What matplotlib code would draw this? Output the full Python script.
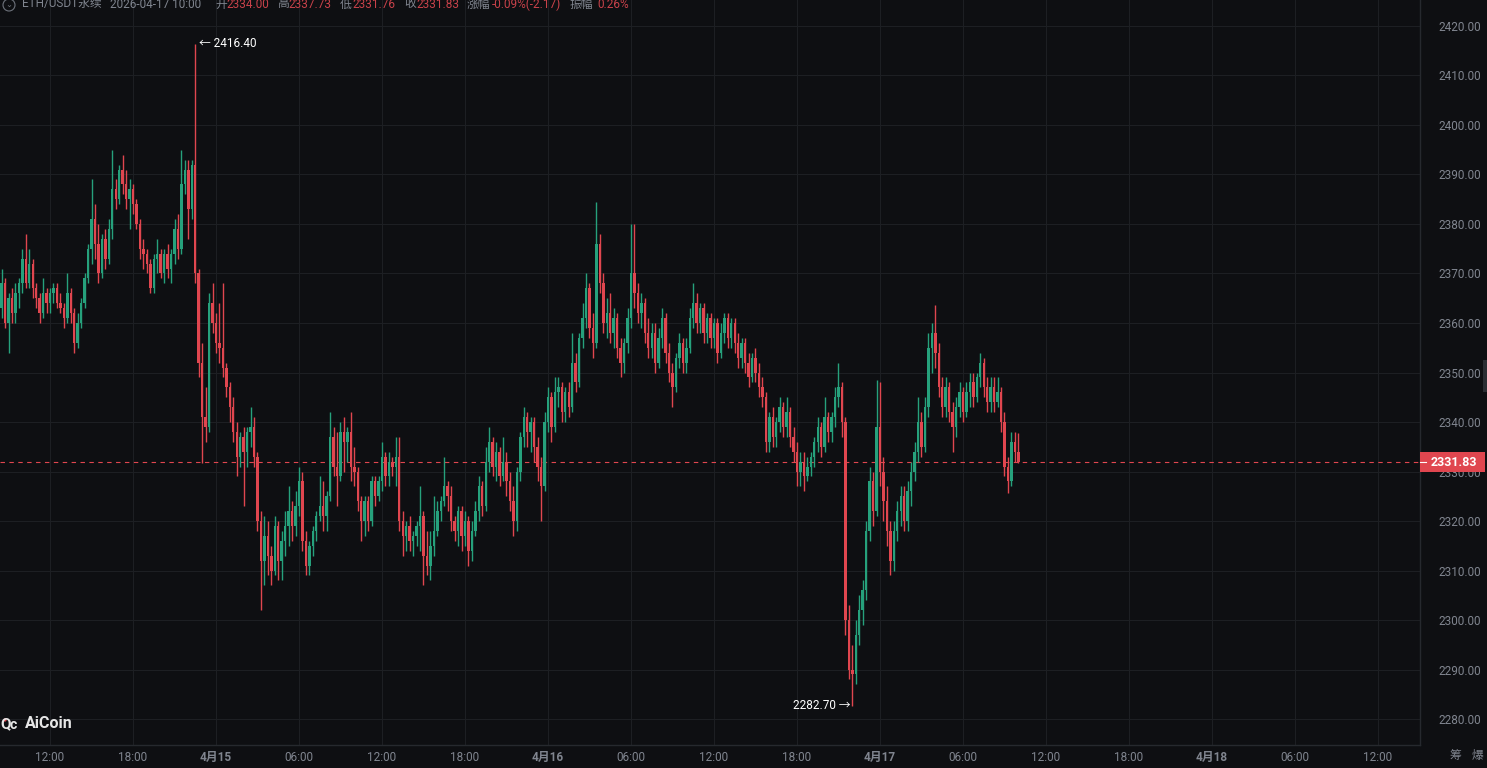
import matplotlib
matplotlib.use("Agg")
import matplotlib.pyplot as plt
import matplotlib.dates as mdates
import matplotlib.transforms as mtransforms
from matplotlib.patches import Rectangle, Circle
import pandas as pd

plt.rcParams['font.family'] = ['Roboto', 'Noto Sans CJK SC', 'DejaVu Sans']

# 15分钟K线, 2026-04-14 08:30 起
start = "2026-04-14 08:30"
first_open = 2363.0

closes = [
    2368, 2360, 2365, 2362, 2366, 2368, 2373, 2368, 2372, 2367,
    2365, 2362, 2366, 2364, 2366, 2367, 2364, 2363, 2361, 2366,
    2362, 2356, 2360, 2364, 2369, 2375, 2381, 2376, 2370, 2377,
    2373, 2379, 2387, 2385, 2391, 2388, 2385, 2387, 2384, 2380,
    2375, 2374, 2372, 2367, 2373, 2374, 2370, 2374, 2371, 2374,
    2379, 2375, 2388, 2391, 2383, 2392, 2370, 2352, 2341, 2339,
    2364, 2360, 2356, 2355, 2351, 2347, 2343, 2338, 2333, 2337,
    2334, 2338, 2339, 2333, 2320, 2312, 2317, 2313, 2310, 2319,
    2312, 2316, 2319, 2322, 2319, 2323, 2328, 2316, 2311, 2315,
    2318, 2321, 2323, 2321, 2325, 2337, 2331, 2329, 2338, 2336,
    2338, 2331, 2330, 2324, 2320, 2324, 2320, 2328, 2325, 2328,
    2333, 2329, 2332, 2331, 2333, 2320, 2317, 2319, 2316, 2317,
    2319, 2321, 2313, 2311, 2315, 2318, 2322, 2324, 2327, 2325,
    2320, 2318, 2322, 2317, 2320, 2314, 2318, 2322, 2327, 2323,
    2332, 2336, 2331, 2334, 2329, 2332, 2328, 2324, 2320, 2330,
    2337, 2341, 2338, 2340, 2335, 2331, 2327, 2340, 2345, 2339,
    2346, 2347, 2342, 2346, 2343, 2352, 2348, 2357, 2361, 2367,
    2359, 2356, 2376, 2368, 2360, 2362, 2358, 2361, 2355, 2352,
    2356, 2361, 2370, 2366, 2362, 2364, 2358, 2355, 2358, 2352,
    2357, 2361, 2354, 2350, 2347, 2353, 2356, 2352, 2355, 2361,
    2364, 2360, 2363, 2358, 2361, 2357, 2360, 2354, 2358, 2361,
    2357, 2360, 2356, 2353, 2356, 2352, 2349, 2353, 2350, 2347,
    2345, 2336, 2341, 2337, 2340, 2343, 2339, 2342, 2337, 2334,
    2330, 2332, 2329, 2331, 2333, 2336, 2339, 2335, 2341, 2338,
    2341, 2345, 2347, 2340, 2300, 2290, 2289, 2297, 2302, 2306,
    2318, 2328, 2322, 2339, 2330, 2324, 2318, 2312, 2318, 2322,
    2325, 2320, 2326, 2330, 2334, 2340, 2335, 2343, 2355, 2358,
    2354, 2347, 2343, 2347, 2342, 2339, 2343, 2346, 2342, 2346,
    2348, 2345, 2349, 2352, 2347, 2344, 2347, 2344, 2346, 2340,
    2331, 2328, 2336, 2334, 2331.83,
]

highs = [
    2371, 2369, 2366, 2367, 2368, 2369, 2375, 2378, 2375, 2373,
    2368, 2366, 2369, 2367, 2367, 2368, 2368, 2366, 2364, 2370,
    2367, 2363, 2362, 2365, 2370, 2376, 2389, 2384, 2380, 2378,
    2379, 2381, 2395, 2389, 2392, 2394, 2391, 2389, 2388, 2385,
    2381, 2377, 2375, 2373, 2374, 2377, 2375, 2375, 2376, 2375,
    2381, 2382, 2395, 2393, 2393, 2393, 2416.4, 2371, 2356, 2347,
    2366, 2368, 2362, 2364, 2368, 2352, 2348, 2345, 2340, 2338,
    2339, 2339, 2343, 2341, 2334, 2322, 2321, 2320, 2315, 2321,
    2320, 2318, 2322, 2327, 2324, 2326, 2331, 2330, 2318, 2316,
    2319, 2322, 2329, 2328, 2326, 2342, 2339, 2338, 2340, 2341,
    2339, 2342, 2335, 2331, 2325, 2325, 2325, 2329, 2329, 2329,
    2336, 2334, 2334, 2333, 2337, 2337, 2322, 2320, 2321, 2318,
    2320, 2327, 2322, 2318, 2318, 2325, 2324, 2325, 2333, 2328,
    2327, 2321, 2323, 2323, 2322, 2321, 2320, 2324, 2329, 2328,
    2335, 2339, 2337, 2336, 2335, 2337, 2334, 2330, 2327, 2331,
    2338, 2343, 2342, 2341, 2341, 2337, 2333, 2342, 2347, 2346,
    2349, 2349, 2348, 2347, 2348, 2358, 2354, 2358, 2364, 2370,
    2368, 2362, 2384.4, 2378, 2370, 2365, 2366, 2363, 2362, 2357,
    2357, 2363, 2380, 2380, 2368, 2366, 2365, 2361, 2360, 2360,
    2359, 2363, 2362, 2356, 2352, 2354, 2358, 2357, 2357, 2363,
    2368, 2366, 2364, 2364, 2362, 2362, 2361, 2361, 2360, 2362,
    2362, 2361, 2361, 2358, 2357, 2357, 2354, 2354, 2355, 2352,
    2349, 2346, 2342, 2343, 2341, 2345, 2344, 2345, 2343, 2339,
    2336, 2334, 2334, 2333, 2334, 2337, 2341, 2340, 2345, 2342,
    2342, 2347, 2352, 2348, 2341, 2303, 2295, 2300, 2305, 2308,
    2320, 2331, 2330, 2348.5, 2348, 2333, 2327, 2320, 2320, 2324,
    2327, 2327, 2328, 2332, 2336, 2345, 2342, 2345, 2358, 2360,
    2363.6, 2356, 2349, 2349, 2348, 2344, 2345, 2348, 2347, 2348,
    2350, 2350, 2350, 2354, 2353, 2349, 2349, 2349, 2349, 2347,
    2342, 2333, 2338, 2338, 2337.73,
]

lows = [
    2361, 2359, 2354, 2360, 2360, 2363, 2366, 2367, 2367, 2365,
    2363, 2360, 2361, 2362, 2362, 2364, 2363, 2362, 2359, 2360,
    2360, 2354, 2355, 2359, 2363, 2368, 2372, 2373, 2368, 2369,
    2371, 2372, 2377, 2383, 2384, 2386, 2383, 2379, 2382, 2379,
    2373, 2371, 2370, 2366, 2366, 2370, 2369, 2368, 2369, 2368,
    2372, 2373, 2374, 2386, 2377, 2381, 2368, 2349, 2331.7, 2336,
    2338, 2358, 2354, 2352, 2349, 2345, 2340, 2336, 2329, 2331,
    2323, 2331, 2335, 2331, 2318, 2302, 2307, 2309, 2307, 2309,
    2308, 2308, 2313, 2315, 2316, 2317, 2321, 2314, 2309, 2309,
    2313, 2316, 2320, 2318, 2318, 2324, 2329, 2323, 2328, 2330,
    2332, 2328, 2327, 2322, 2316, 2317, 2318, 2319, 2323, 2324,
    2326, 2327, 2327, 2329, 2327, 2318, 2313, 2314, 2314, 2313,
    2315, 2314, 2307, 2309, 2308, 2313, 2317, 2320, 2323, 2322,
    2318, 2316, 2315, 2314, 2315, 2311, 2312, 2317, 2320, 2321,
    2322, 2330, 2329, 2328, 2327, 2328, 2325, 2322, 2317, 2318,
    2328, 2335, 2335, 2334, 2332, 2328, 2320, 2326, 2338, 2336,
    2338, 2343, 2340, 2340, 2341, 2342, 2346, 2347, 2355, 2359,
    2357, 2353, 2355, 2366, 2358, 2357, 2356, 2355, 2353, 2349,
    2350, 2354, 2359, 2363, 2360, 2359, 2356, 2353, 2353, 2350,
    2351, 2355, 2352, 2348, 2343, 2346, 2351, 2350, 2350, 2354,
    2359, 2358, 2358, 2356, 2356, 2355, 2355, 2352, 2353, 2356,
    2355, 2355, 2354, 2351, 2351, 2350, 2347, 2348, 2348, 2345,
    2343, 2334, 2334, 2335, 2335, 2338, 2337, 2337, 2335, 2332,
    2327, 2327, 2326, 2328, 2329, 2331, 2334, 2333, 2334, 2336,
    2336, 2339, 2343, 2337, 2297, 2288, 2282.7, 2287, 2295, 2299,
    2304, 2316, 2319, 2321, 2327, 2320, 2315, 2309, 2310, 2316,
    2319, 2318, 2318, 2323, 2328, 2332, 2333, 2334, 2341, 2350,
    2351, 2345, 2341, 2341, 2340, 2334, 2337, 2341, 2340, 2341,
    2343, 2343, 2344, 2347, 2345, 2342, 2342, 2342, 2343, 2338,
    2329, 2325.7, 2327, 2332, 2331.76,
]

price_ticks = list(range(2280, 2421, 10))
time_ticks = pd.date_range("2026-04-14 12:00", "2026-04-18 12:00", freq="6h")

header = [
    (22, "ETH/USDT永续", "gray"), (110, "2026-04-17 10:00", "gray"),
    (215, "开", "gray"), (226, "2334.00", "red"),
    (277, "高", "gray"), (288, "2337.73", "red"),
    (340, "低", "gray"), (352, "2331.76", "red"),
    (404, "收", "gray"), (416, "2331.83", "red"),
    (467, "涨幅", "gray"), (492, "-0.09%(-2.17)", "red"),
    (570, "振幅", "gray"), (597, "0.26%", "red"),
]

assert len(closes) == len(highs) == len(lows)

BG = "#0e0f12"
GRID = "#1d1f23"
UP = "#26a17c"
DOWN = "#e0464f"
TXT = "#80858f"
HEAD_RED = "#c9424a"

times = mdates.date2num(pd.date_range(start, periods=len(closes), freq="15min"))
opens = [first_open] + closes[:-1]
last_price = closes[-1]

W, H = 1487, 768
fig = plt.figure(figsize=(W / 100, H / 100), dpi=100, facecolor=BG)
ax = fig.add_axes([0, 23 / H, 1420 / W, 745 / H], facecolor=BG)

day0 = mdates.date2num(pd.Timestamp("2026-04-15 00:00"))
ax.set_xlim(day0 - 15.615 / 24, day0 + 87.04 / 24)
ax.set_ylim(2274.75, 2425.25)

colors = [UP if c >= o else DOWN for o, c in zip(opens, closes)]
ax.vlines(times, lows, highs, colors=colors, lw=1.0, zorder=3)
body_bottom = [min(o, c) for o, c in zip(opens, closes)]
body_h = [max(abs(c - o), 0.25) for o, c in zip(opens, closes)]
ax.bar(times, body_h, bottom=body_bottom, width=0.7 * 0.25 / 24,
       color=colors, linewidth=0, zorder=4)

# grid / axes
ax.set_yticks(price_ticks)
ax.set_yticklabels([f"{p:.2f}" for p in price_ticks])
ax.yaxis.tick_right()
ax.set_xticks(mdates.date2num(time_ticks))
labels = []
for t in time_ticks:
    labels.append(f"{t.month}月{t.day}" if t.hour == 0 else t.strftime("%H:%M"))
ax.set_xticklabels(labels)
for lab, t in zip(ax.get_xticklabels(), time_ticks):
    if t.hour == 0:
        lab.set_fontweight("bold")
        lab.set_color("#a3a7ae")
ax.tick_params(axis="y", length=0, pad=13, labelsize=8.5, labelcolor=TXT)
ax.tick_params(axis="x", length=0, pad=4, labelsize=8.5, labelcolor=TXT)
ax.grid(True, color=GRID, lw=0.8)
ax.set_axisbelow(True)
for s in ["left", "top"]:
    ax.spines[s].set_visible(False)
for s in ["right", "bottom"]:
    ax.spines[s].set_color("#26292e")
    ax.spines[s].set_linewidth(1.0)

# current price line and tag
ax.axhline(last_price, color=DOWN, lw=0.8, ls=(0, (4, 4)), zorder=2)
blend = mtransforms.blended_transform_factory(ax.transAxes, ax.transData)
ax.add_patch(Rectangle((1.0, last_price - 2.02), 65 / 1420, 4.04, transform=blend,
                       facecolor=DOWN, edgecolor="none", clip_on=False, zorder=10))
ax.plot([1.0, 1.0 + 6 / 1420], [last_price, last_price], transform=blend,
        color="white", lw=0.8, clip_on=False, zorder=11)
ax.text(1.0 + 34 / 1420, last_price, f"{last_price:.2f}", transform=blend,
        color="white", fontsize=9, fontweight="bold", ha="center", va="center",
        zorder=11, clip_on=False)

# high / low marks
hi = highs.index(max(highs))
lo = lows.index(min(lows))
ax.annotate(f"← {highs[hi]:.2f}", xy=(times[hi], highs[hi]), xytext=(3, 0),
            textcoords="offset points", color="white", fontsize=8.5,
            ha="left", va="center", zorder=12)
ax.annotate(f"{lows[lo]:.2f} →", xy=(times[lo], lows[lo]), xytext=(-1, 0),
            textcoords="offset points", color="white", fontsize=8.5,
            ha="right", va="center", zorder=12)

# header
fig.patches.append(Circle((9, H - 5), 6, transform=None, facecolor="none",
                          edgecolor="#6d727b", lw=0.8))
fig.text(9 / W, 1 - 5 / H, "⌄", color="#6d727b", fontsize=6, ha="center", va="center")
for x, s, c in header:
    fig.text(x / W, 1 - 4 / H, s, color=TXT if c == "gray" else HEAD_RED,
             fontsize=8.5, ha="left", va="center")

# watermark
fig.text(0 / W, 1 - 724 / H, "Q", color="#e6e6e6", fontsize=11, fontweight="bold",
         ha="left", va="center")
fig.text(10 / W, 1 - 725 / H, "c", color="#e6e6e6", fontsize=10, fontweight="bold",
         ha="left", va="center")
fig.patches.append(Circle((5, H - 720), 1.6, transform=None, facecolor=DOWN,
                          edgecolor="none"))
fig.text(25 / W, 1 - 724 / H, "AiCoin", color="#e6e6e6", fontsize=11.5,
         fontweight="bold", ha="left", va="center")

# bottom right & side tab
fig.text(1455 / W, 1 - 756 / H, "筹", color=TXT, fontsize=8.5, ha="center", va="center")
fig.text(1478 / W, 1 - 756 / H, "爆", color=TXT, fontsize=8.5, ha="center", va="center")
fig.patches.append(Rectangle((1483, H - 392), 8, 32, transform=None,
                             facecolor="#2b2e33", edgecolor="none"))

fig.savefig("out.png", dpi=100, facecolor=BG)
